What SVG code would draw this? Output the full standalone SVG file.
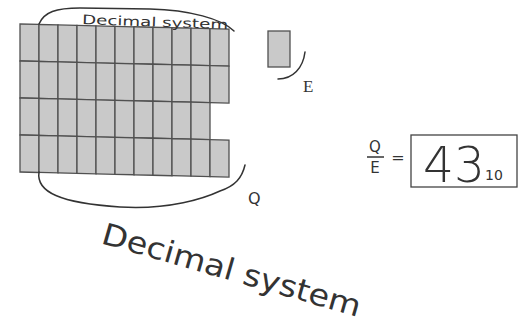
<svg xmlns="http://www.w3.org/2000/svg" width="520" height="324" viewBox="0 0 520 324">
<style>
.cell{fill:#c9c9c9;stroke:#505050;stroke-width:1.3}
.ink{fill:none;stroke:#333;stroke-width:1.5;stroke-linecap:round}
.hand{font-family:"DejaVu Sans","Liberation Sans",sans-serif;fill:#333}
.serif{font-family:"Liberation Serif",serif;fill:#333}
</style>
<rect width="520" height="324" fill="#ffffff"/>
<g id="grid" transform="translate(20 24) skewY(1.4) translate(-20 -24)">
  <g id="row1">
    <rect class="cell" x="20" y="24" width="19" height="37"/><rect class="cell" x="39" y="24" width="19" height="37"/><rect class="cell" x="58" y="24" width="19" height="37"/><rect class="cell" x="77" y="24" width="19" height="37"/><rect class="cell" x="96" y="24" width="19" height="37"/><rect class="cell" x="115" y="24" width="19" height="37"/><rect class="cell" x="134" y="24" width="19" height="37"/><rect class="cell" x="153" y="24" width="19" height="37"/><rect class="cell" x="172" y="24" width="19" height="37"/><rect class="cell" x="191" y="24" width="19" height="37"/><rect class="cell" x="210" y="24" width="19" height="37"/>
  </g>
  <g id="row2">
    <rect class="cell" x="20" y="61" width="19" height="37"/><rect class="cell" x="39" y="61" width="19" height="37"/><rect class="cell" x="58" y="61" width="19" height="37"/><rect class="cell" x="77" y="61" width="19" height="37"/><rect class="cell" x="96" y="61" width="19" height="37"/><rect class="cell" x="115" y="61" width="19" height="37"/><rect class="cell" x="134" y="61" width="19" height="37"/><rect class="cell" x="153" y="61" width="19" height="37"/><rect class="cell" x="172" y="61" width="19" height="37"/><rect class="cell" x="191" y="61" width="19" height="37"/><rect class="cell" x="210" y="61" width="19" height="37"/>
  </g>
  <g id="row3">
    <rect class="cell" x="20" y="98" width="19" height="37"/><rect class="cell" x="39" y="98" width="19" height="37"/><rect class="cell" x="58" y="98" width="19" height="37"/><rect class="cell" x="77" y="98" width="19" height="37"/><rect class="cell" x="96" y="98" width="19" height="37"/><rect class="cell" x="115" y="98" width="19" height="37"/><rect class="cell" x="134" y="98" width="19" height="37"/><rect class="cell" x="153" y="98" width="19" height="37"/><rect class="cell" x="172" y="98" width="19" height="37"/><rect class="cell" x="191" y="98" width="19" height="37"/>
  </g>
  <g id="row4">
    <rect class="cell" x="20" y="135" width="19" height="37"/><rect class="cell" x="39" y="135" width="19" height="37"/><rect class="cell" x="58" y="135" width="19" height="37"/><rect class="cell" x="77" y="135" width="19" height="37"/><rect class="cell" x="96" y="135" width="19" height="37"/><rect class="cell" x="115" y="135" width="19" height="37"/><rect class="cell" x="134" y="135" width="19" height="37"/><rect class="cell" x="153" y="135" width="19" height="37"/><rect class="cell" x="172" y="135" width="19" height="37"/><rect class="cell" x="191" y="135" width="19" height="37"/><rect class="cell" x="210" y="135" width="19" height="37"/>
  </g>
</g>
<g id="connectors">
  <path class="ink" d="M39,24 C44,12 56,8 80,8 L150,9 C190,10 222,19 234,31"/>
  <path class="ink" d="M39,172 C36,192 60,203 120,207 C170,210 205,198 220,191 C235,186 242,178 245,165"/>
  <path class="ink" d="M278,79 C293,79 303,68 305,52"/>
</g>
<g id="label-top"><text class="hand" x="82" y="24" font-size="13" fill="#555" textLength="146" lengthAdjust="spacingAndGlyphs" transform="rotate(2 82 24)">Decimal system</text></g>
<g id="label-Q"><text class="hand" x="248" y="204" font-size="16">Q</text></g>
<g id="unit-E">
  <rect class="cell" x="268" y="31" width="22" height="36"/>
  <text class="serif" x="303" y="92" font-size="17">E</text>
</g>
<g id="ratio">
  <text class="hand" x="375" y="152" font-size="15" text-anchor="middle">Q</text>
  <line x1="367" y1="157" x2="384" y2="157" stroke="#333" stroke-width="1.5"/>
  <text class="hand" x="375" y="173" font-size="15" text-anchor="middle">E</text>
  <text class="hand" x="398" y="163" font-size="16" text-anchor="middle">=</text>
  <rect x="411" y="135" width="106" height="52" fill="none" stroke="#444" stroke-width="1.3"/>
  <text class="hand" x="423" y="182" font-size="50" font-weight="300" textLength="62" lengthAdjust="spacingAndGlyphs">43</text>
  <text class="hand" x="485" y="180" font-size="14">10</text>
</g>
<g id="label-bottom"><text class="hand" x="100" y="243" font-size="30" textLength="268" lengthAdjust="spacingAndGlyphs" transform="rotate(16 100 243)">Decimal system</text></g>
</svg>
